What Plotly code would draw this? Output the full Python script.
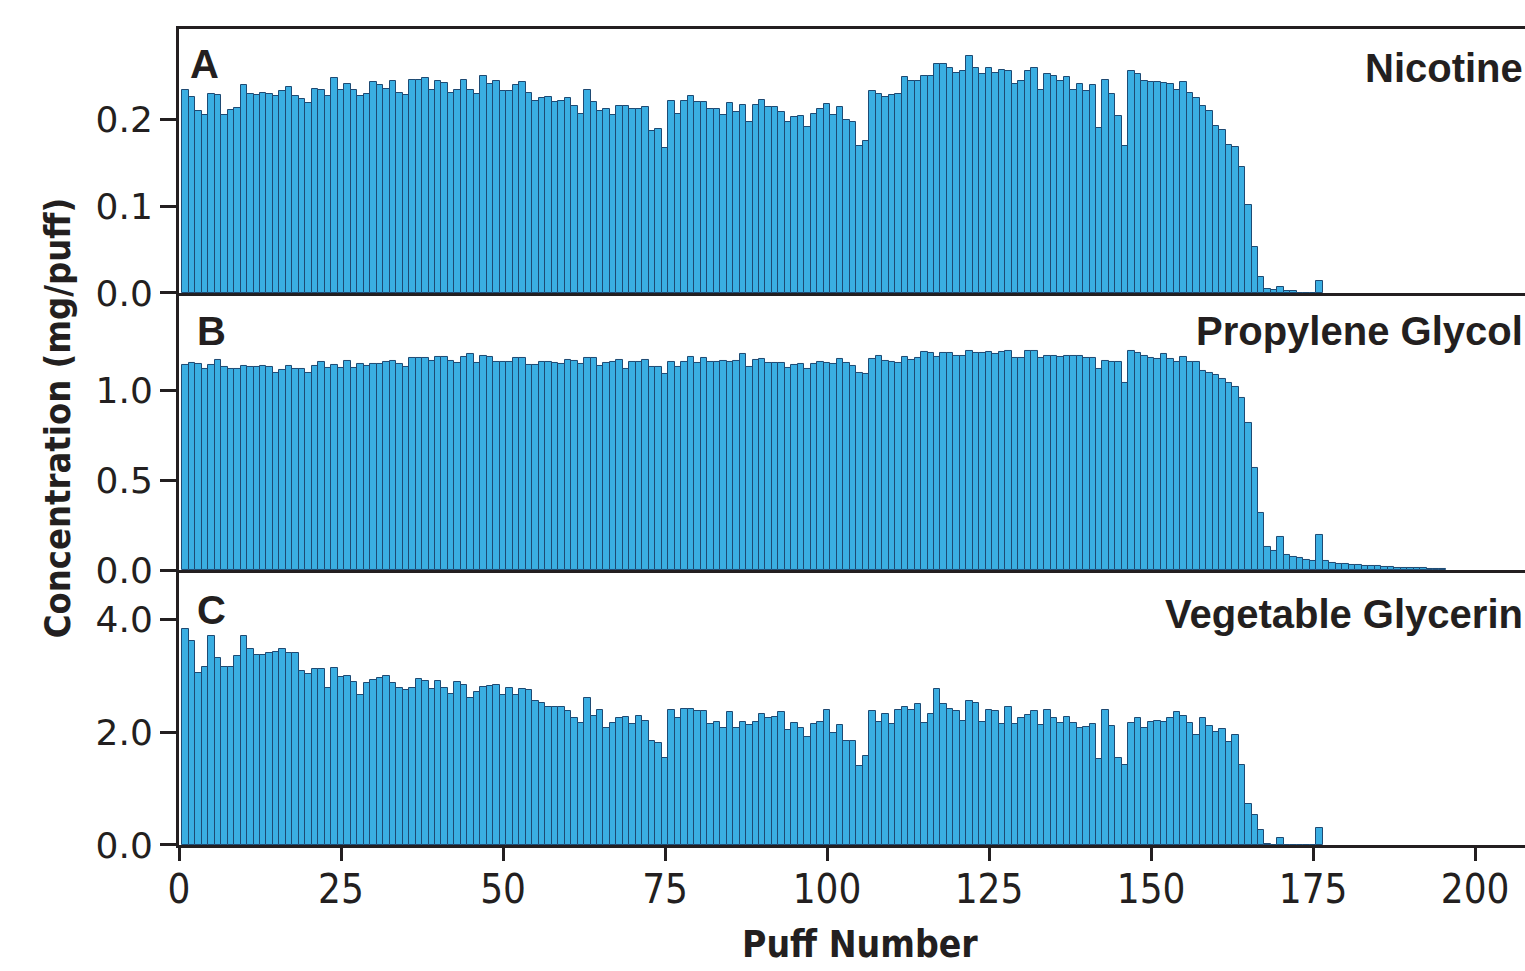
import plotly.graph_objects as go

# ---------------- data ----------------
nicotine = [
    0.234, 0.226, 0.210, 0.206, 0.230, 0.229, 0.206, 0.211, 0.214, 0.240,
    0.230, 0.229, 0.231, 0.230, 0.228, 0.233, 0.238, 0.228, 0.224, 0.220,
    0.236, 0.235, 0.228, 0.248, 0.235, 0.242, 0.235, 0.228, 0.230, 0.244,
    0.240, 0.236, 0.245, 0.231, 0.229, 0.246, 0.246, 0.248, 0.235, 0.245,
    0.243, 0.231, 0.235, 0.246, 0.235, 0.230, 0.251, 0.241, 0.245, 0.233,
    0.233, 0.240, 0.244, 0.231, 0.222, 0.225, 0.226, 0.221, 0.222, 0.225,
    0.216, 0.207, 0.235, 0.221, 0.210, 0.212, 0.206, 0.216, 0.216, 0.213,
    0.212, 0.215, 0.187, 0.189, 0.168, 0.222, 0.207, 0.222, 0.228, 0.221,
    0.221, 0.212, 0.212, 0.206, 0.220, 0.209, 0.217, 0.197, 0.217, 0.223,
    0.215, 0.215, 0.209, 0.198, 0.203, 0.205, 0.192, 0.207, 0.212, 0.218,
    0.206, 0.215, 0.200, 0.198, 0.170, 0.176, 0.233, 0.230, 0.226, 0.229,
    0.230, 0.249, 0.245, 0.245, 0.251, 0.251, 0.265, 0.265, 0.260, 0.254,
    0.256, 0.274, 0.260, 0.253, 0.260, 0.254, 0.258, 0.257, 0.241, 0.245,
    0.256, 0.260, 0.235, 0.253, 0.251, 0.245, 0.250, 0.235, 0.242, 0.233,
    0.240, 0.191, 0.246, 0.230, 0.205, 0.170, 0.256, 0.253, 0.245, 0.244,
    0.244, 0.243, 0.241, 0.235, 0.244, 0.231, 0.225, 0.216, 0.210, 0.193,
    0.188, 0.171, 0.169, 0.145, 0.102, 0.053, 0.018, 0.005, 0.004, 0.007,
    0.002, 0.002, 0.0, 0.0, 0.0, 0.014,
]

propylene_glycol = [
    1.142, 1.151, 1.146, 1.118, 1.142, 1.170, 1.133, 1.118, 1.118, 1.136,
    1.133, 1.133, 1.136, 1.133, 1.099, 1.114, 1.136, 1.118, 1.118, 1.099,
    1.138, 1.157, 1.123, 1.142, 1.127, 1.164, 1.123, 1.146, 1.138, 1.146,
    1.146, 1.157, 1.164, 1.146, 1.133, 1.179, 1.179, 1.179, 1.164, 1.189,
    1.185, 1.164, 1.155, 1.189, 1.203, 1.155, 1.192, 1.185, 1.161, 1.161,
    1.157, 1.179, 1.179, 1.142, 1.142, 1.157, 1.157, 1.151, 1.146, 1.172,
    1.164, 1.146, 1.179, 1.183, 1.138, 1.151, 1.157, 1.170, 1.118, 1.157,
    1.157, 1.170, 1.133, 1.133, 1.090, 1.157, 1.133, 1.157, 1.185, 1.151,
    1.179, 1.157, 1.157, 1.164, 1.161, 1.166, 1.203, 1.133, 1.170, 1.174,
    1.155, 1.151, 1.151, 1.127, 1.142, 1.146, 1.118, 1.146, 1.157, 1.155,
    1.146, 1.174, 1.155, 1.138, 1.099, 1.090, 1.175, 1.194, 1.164, 1.157,
    1.155, 1.189, 1.170, 1.183, 1.216, 1.207, 1.189, 1.207, 1.207, 1.194,
    1.194, 1.222, 1.211, 1.211, 1.216, 1.203, 1.216, 1.222, 1.179, 1.179,
    1.222, 1.222, 1.179, 1.192, 1.192, 1.189, 1.192, 1.192, 1.192, 1.183,
    1.179, 1.118, 1.164, 1.161, 1.161, 1.040, 1.222, 1.211, 1.194, 1.179,
    1.174, 1.203, 1.174, 1.161, 1.189, 1.157, 1.157, 1.110, 1.096, 1.086,
    1.062, 1.043, 1.018, 0.956, 0.817, 0.570, 0.316, 0.126, 0.107, 0.185,
    0.084, 0.074, 0.065, 0.056, 0.052, 0.195, 0.052, 0.037, 0.033, 0.031,
    0.028, 0.026, 0.024, 0.022, 0.020, 0.018, 0.016, 0.014, 0.012, 0.011,
    0.010, 0.009, 0.008, 0.007, 0.006,
]

vegetable_glycerin = [
    3.831, 3.629, 3.061, 3.167, 3.712, 3.316, 3.167, 3.167, 3.357, 3.712,
    3.481, 3.375, 3.375, 3.416, 3.434, 3.481, 3.404, 3.416, 3.096, 3.037,
    3.126, 3.126, 2.783, 3.138, 2.990, 3.002, 2.889, 2.664, 2.871, 2.931,
    2.972, 3.002, 2.883, 2.783, 2.753, 2.795, 2.943, 2.913, 2.765, 2.919,
    2.783, 2.676, 2.901, 2.842, 2.617, 2.723, 2.801, 2.824, 2.842, 2.664,
    2.783, 2.664, 2.765, 2.753, 2.558, 2.528, 2.445, 2.457, 2.457, 2.380,
    2.250, 2.161, 2.605, 2.291, 2.398, 2.072, 2.173, 2.262, 2.280, 2.143,
    2.291, 2.209, 1.847, 1.818, 1.551, 2.398, 2.250, 2.410, 2.410, 2.380,
    2.380, 2.143, 2.191, 2.084, 2.356, 2.072, 2.191, 2.131, 2.179, 2.327,
    2.262, 2.280, 2.356, 2.043, 2.161, 2.072, 1.924, 2.143, 2.179, 2.398,
    1.983, 2.131, 1.847, 1.847, 1.409, 1.581, 2.380, 2.191, 2.321, 2.149,
    2.398, 2.457, 2.398, 2.499, 2.161, 2.321, 2.765, 2.499, 2.410, 2.380,
    2.209, 2.558, 2.528, 2.179, 2.398, 2.380, 2.143, 2.457, 2.143, 2.250,
    2.309, 2.380, 2.131, 2.398, 2.250, 2.161, 2.280, 2.161, 2.072, 2.102,
    2.143, 1.528, 2.398, 2.114, 1.551, 1.421, 2.161, 2.262, 2.084, 2.179,
    2.209, 2.191, 2.250, 2.356, 2.291, 2.161, 1.954, 2.250, 2.114, 2.001,
    2.060, 1.824, 1.954, 1.421, 0.728, 0.533, 0.266, 0.020, 0.0, 0.118,
    0.0, 0.0, 0.0, 0.0, 0.0, 0.296,
]

panel_letters = ["A", "B", "C"]
panel_names = ["Nicotine", "Propylene Glycol", "Vegetable Glycerin"]
y_ticks = [[0.0, 0.1, 0.2], [0.0, 0.5, 1.0], [0.0, 2.0, 4.0]]
y_ranges = [[0, 0.305], [0, 1.543], [0, 4.884]]
x_ticks = [0, 25, 50, 75, 100, 125, 150, 175, 200]
x_range = [0, 207.7]

series = [nicotine, propylene_glycol, vegetable_glycerin]

# ---------------- figure ----------------
FILL = "#3AAEE2"
EDGE = "#1E4A73"
INK = "#231F20"

fig = go.Figure()
axis_ids = ["", "2", "3"]
for vals, aid in zip(series, axis_ids):
    puffs = list(range(1, len(vals) + 1))
    fig.add_trace(go.Bar(
        x=puffs, y=vals, width=1.0,
        marker=dict(color=FILL, line=dict(color=EDGE, width=1)),
        xaxis="x" + aid, yaxis="y" + aid, showlegend=False,
    ))

domains = [[0.6765, 1.0], [0.337, 0.6765], [0.0, 0.337]]
tick_font = dict(family="DejaVu Sans", size=36, color=INK)
xtick_font = dict(family="Liberation Sans Narrow, DejaVu Sans Condensed, sans-serif", size=40, color=INK)

layout = dict(
    width=1525, height=971,
    margin=dict(l=179, r=0, t=29, b=126),
    paper_bgcolor="white", plot_bgcolor="white",
    bargap=0,
)
for i, aid in enumerate(axis_ids):
    last = (i == 2)
    layout["xaxis" + aid] = dict(
        range=x_range, anchor="y" + aid,
        showline=True, linewidth=3, linecolor=INK,
        mirror=(i == 0),
        showgrid=False, zeroline=False,
        tickmode="array", tickvals=x_ticks,
        ticks="outside" if last else "",
        ticklen=13, tickwidth=2.5, tickcolor=INK,
        showticklabels=last, tickfont=xtick_font,
        ticklabelstandoff=-6 if last else 0,
    )
    layout["yaxis" + aid] = dict(
        domain=domains[i], range=y_ranges[i], anchor="x" + aid,
        showline=True, linewidth=3, linecolor=INK,
        showgrid=False, zeroline=False,
        tickmode="array", tickvals=y_ticks[i],
        ticktext=["%.1f" % v for v in y_ticks[i]],
        ticks="outside", ticklen=16, tickwidth=2.5, tickcolor=INK,
        tickfont=tick_font,
    )
fig.update_layout(**layout)

label_font = dict(family="Liberation Sans, Arial, sans-serif", size=40, color=INK)
letter_y = [0.957, 0.630, 0.288]
letter_x = [0.007, 0.012, 0.012]
name_y = [0.952, 0.630, 0.283]
for i in range(3):
    fig.add_annotation(text="<b>%s</b>" % panel_letters[i], xref="paper", yref="paper",
                       x=letter_x[i], y=letter_y[i], xanchor="left", yanchor="middle",
                       showarrow=False, font=label_font)
    fig.add_annotation(text="<b>%s</b>" % panel_names[i], xref="paper", yref="paper",
                       x=1.0, y=name_y[i], xanchor="right", yanchor="middle",
                       showarrow=False, font=label_font)

title_font = dict(family="Liberation Sans Narrow, DejaVu Sans Condensed, sans-serif", size=36, color=INK)
fig.add_annotation(text="<b>Concentration (mg/puff)</b>", xref="paper", yref="paper",
                   x=-0.0906, y=0.523, xanchor="center", yanchor="middle", textangle=-90,
                   showarrow=False, font=title_font)
fig.add_annotation(text="<b>Puff Number</b>", xref="paper", yref="paper",
                   x=0.506, y=-0.1225, xanchor="center", yanchor="middle",
                   showarrow=False, font=dict(title_font, size=37))

fig.write_html("out.html")
